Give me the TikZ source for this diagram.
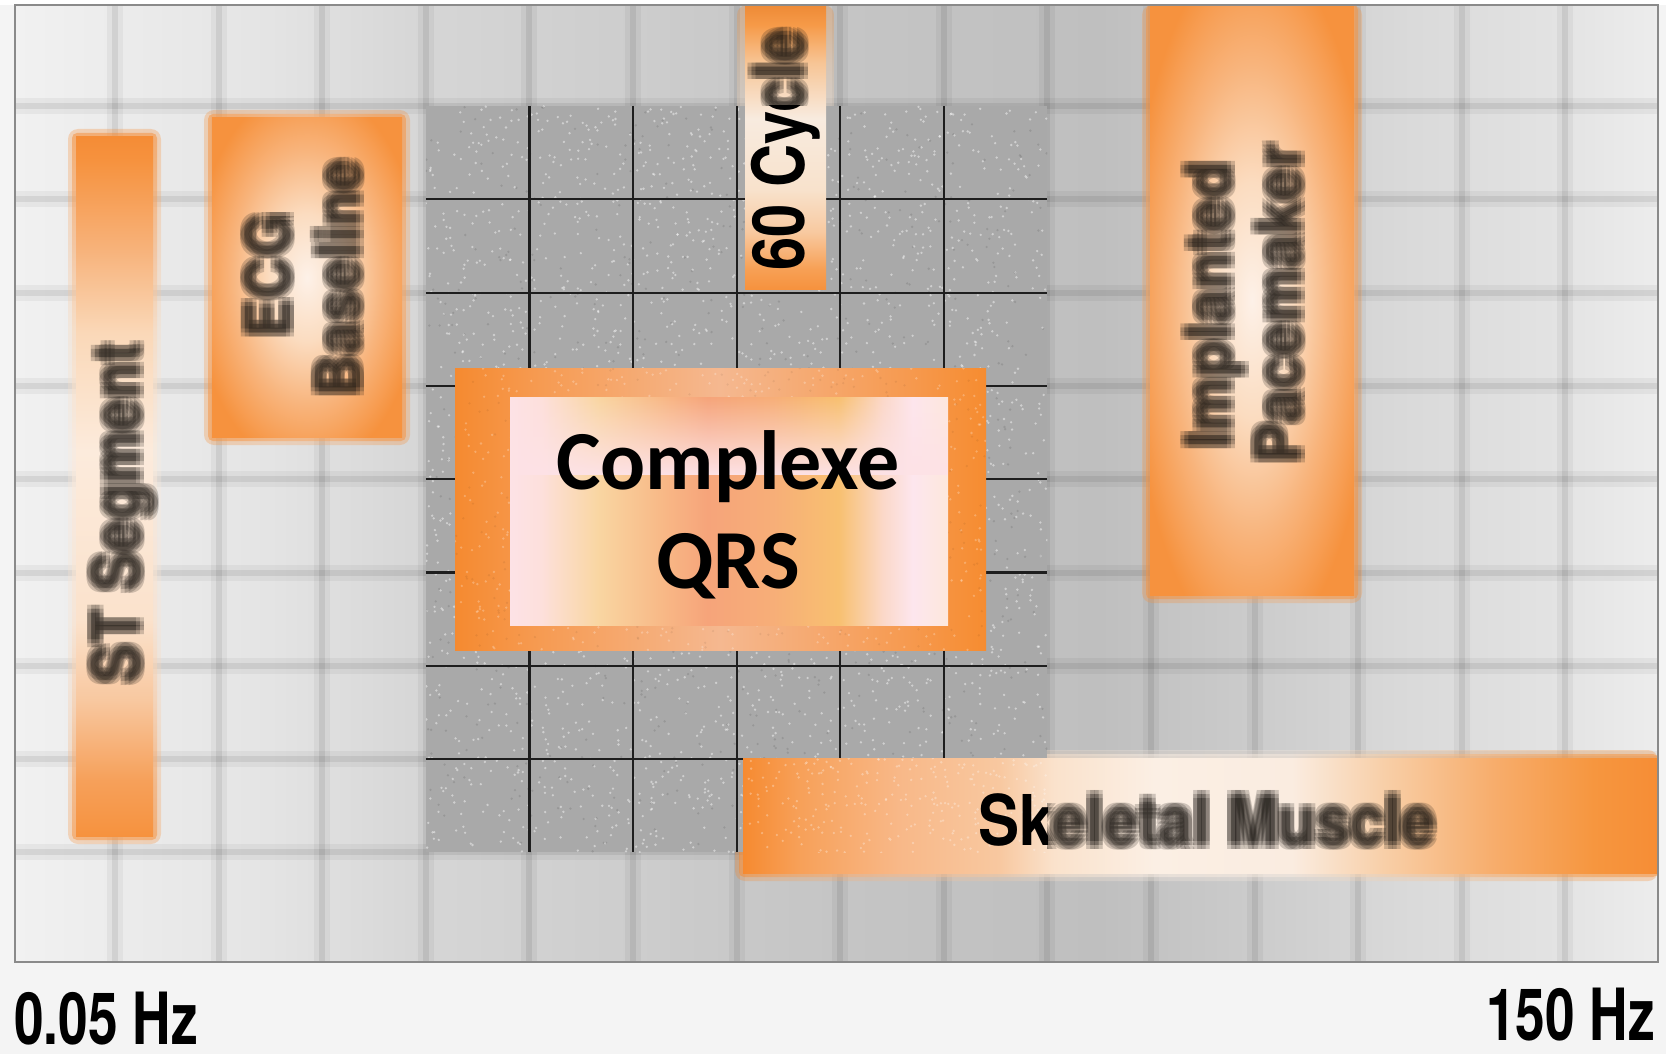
\documentclass[tikz,border=0pt]{standalone}
\usepackage{fontspec}
\usepackage{graphicx}
\usetikzlibrary{fadings}
\newfontfamily\helv{TeX Gyre Heros}
\newfontfamily\calib{Carlito}

\definecolor{pagebg}{HTML}{F4F4F4}
\definecolor{cbA}{HTML}{F1F1F1}
\definecolor{cbB}{HTML}{E4E4E4}
\definecolor{cbC}{HTML}{D6D6D6}
\definecolor{cbD}{HTML}{C6C6C6}
\definecolor{cbE}{HTML}{BFBFBF}
\definecolor{cbF}{HTML}{CBCBCB}
\definecolor{cbG}{HTML}{D9D9D9}
\definecolor{cbH}{HTML}{E3E3E3}
\definecolor{cbI}{HTML}{EDEDED}
\pgfdeclarehorizontalshading{chartbg}{100bp}{color(0bp)=(cbA); color(25bp)=(cbA); color(32.75bp)=(cbB); color(37.35bp)=(cbC); color(48.9bp)=(cbD); color(58bp)=(cbE); color(62.5bp)=(cbF); color(67.1bp)=(cbG); color(72bp)=(cbH); color(75bp)=(cbI); color(100bp)=(cbI)}

\definecolor{stA}{HTML}{F6923E}
\definecolor{stB}{HTML}{F6A05A}
\definecolor{stC}{HTML}{F8C8A0}
\definecolor{stD}{HTML}{FBE2CC}
\definecolor{stE}{HTML}{FCEBDC}
\definecolor{stF}{HTML}{FAD8B8}
\definecolor{stG}{HTML}{F7B27A}
\definecolor{stH}{HTML}{F58C36}
\pgfdeclareverticalshading{stshade}{100bp}{color(0bp)=(stA); color(25bp)=(stA); color(29bp)=(stB); color(34.75bp)=(stC); color(40.5bp)=(stD); color(52.5bp)=(stE); color(61bp)=(stF); color(67bp)=(stG); color(73.35bp)=(stA); color(75bp)=(stH); color(100bp)=(stH)}

\definecolor{cyA}{HTML}{F6923E}
\definecolor{cyB}{HTML}{F7A055}
\definecolor{cyC}{HTML}{F8C9A0}
\definecolor{cyD}{HTML}{F8E2CC}
\definecolor{cyE}{HTML}{F8EBDF}
\definecolor{cyF}{HTML}{F7C494}
\definecolor{cyG}{HTML}{F69A48}
\definecolor{cyH}{HTML}{EE8A36}
\pgfdeclareverticalshading{cyshade}{100bp}{color(0bp)=(cyA); color(25bp)=(cyA); color(28.5bp)=(cyB); color(35bp)=(cyC); color(42.5bp)=(cyD); color(55bp)=(cyE); color(65bp)=(cyF); color(71.5bp)=(cyG); color(75bp)=(cyH); color(100bp)=(cyH)}

\definecolor{skA}{HTML}{F68A30}
\definecolor{skB}{HTML}{F7A058}
\definecolor{skC}{HTML}{F8B888}
\definecolor{skD}{HTML}{F8C8A0}
\definecolor{skE}{HTML}{FAE2CC}
\definecolor{skF}{HTML}{FBEFE4}
\definecolor{skG}{HTML}{FAECE0}
\definecolor{skH}{HTML}{F8CFA8}
\definecolor{skI}{HTML}{F7AD6C}
\definecolor{skJ}{HTML}{F6963F}
\definecolor{skK}{HTML}{F68D35}
\pgfdeclarehorizontalshading{skshade}{100bp}{color(0bp)=(skA); color(25bp)=(skA); color(28bp)=(skB); color(33.5bp)=(skC); color(39bp)=(skD); color(42bp)=(skE); color(47.5bp)=(skF); color(55bp)=(skG); color(60bp)=(skH); color(66bp)=(skI); color(71.5bp)=(skJ); color(75bp)=(skK); color(100bp)=(skK)}

\definecolor{frA}{HTML}{F58A30}
\definecolor{frB}{HTML}{F69A50}
\definecolor{frC}{HTML}{F5B890}
\definecolor{frD}{HTML}{F68C30}
\pgfdeclarehorizontalshading{frshade}{100bp}{color(0bp)=(frA); color(25bp)=(frA); color(32.5bp)=(frB); color(50bp)=(frC); color(67.5bp)=(frB); color(75bp)=(frD); color(100bp)=(frD)}

\definecolor{inA}{HTML}{FDE2E6}
\definecolor{inB}{HTML}{FDE0DC}
\definecolor{inC}{HTML}{F9D6A2}
\definecolor{inD}{HTML}{F8B886}
\definecolor{inE}{HTML}{F6A47A}
\definecolor{inF}{HTML}{F7AE78}
\definecolor{inG}{HTML}{F8C070}
\definecolor{inH}{HTML}{FBD8C8}
\definecolor{inI}{HTML}{FDE6EE}
\definecolor{inJ}{HTML}{FDE8DC}
\pgfdeclarehorizontalshading{inshade}{100bp}{color(0bp)=(inA); color(25bp)=(inA); color(28.5bp)=(inB); color(35bp)=(inC); color(42.5bp)=(inD); color(47.5bp)=(inE); color(55bp)=(inF); color(62.5bp)=(inG); color(67.5bp)=(inH); color(71bp)=(inI); color(75bp)=(inJ); color(100bp)=(inJ)}

\definecolor{glA}{HTML}{FDF1E8}
\definecolor{glB}{HTML}{FBDCC0}
\definecolor{glC}{HTML}{F8B47C}
\definecolor{glD}{HTML}{F6923E}
\pgfdeclareradialshading{boxglow}{\pgfpoint{0bp}{0bp}}{color(0bp)=(glA); color(10bp)=(glB); color(20bp)=(glC); color(30bp)=(glD); color(50bp)=(glD)}

\definecolor{darkcell}{HTML}{A9A9A9}
\definecolor{darkline}{HTML}{1E1E1E}
\definecolor{blurcol}{HTML}{1A1612}
\definecolor{framegray}{HTML}{8A8A8A}

\tikzset{
  softwide/.style={black, opacity=0.045, line width=16pt},
  softthin/.style={black, opacity=0.07, line width=6pt},
  cellline/.style={darkline, line width=2.2pt},
  blurtext/.style={text=blurcol, text opacity=0.2, inner sep=0pt},
  crisptext/.style={text=black, inner sep=0pt},
  glowfar/.style={opacity=0.3, rounded corners=10pt},
  glownear/.style={opacity=0.5, rounded corners=5pt},
}

\newcommand\speckles[6]{%
  \foreach \k in {1,...,#5}{%
    \pgfmathsetmacro\sx{#1+rnd*#3}%
    \pgfmathsetmacro\sy{#2+rnd*#4}%
    \fill[#6] (\sx,\sy) circle[radius=1.3pt];}}

\newcommand\blurtxt[3]{%
  \foreach \bx/\by in {-4/-4,0/-4,4/-4,-4/0,0/0,4/0,-4/4,0/4,4/4}{%
    \node[blurtext,#2] at ([xshift=\bx pt,yshift=\by pt]#1) {#3};}}

\newcommand\stlabel{\helv\bfseries\fontsize{67}{67}\selectfont\scalebox{0.88}[1]{ST Segment}}
\newcommand\ecglabel{\helv\bfseries\fontsize{62}{62}\selectfont\scalebox{0.93}[1]{ECG}}
\newcommand\baselabel{\helv\bfseries\fontsize{62}{62}\selectfont\scalebox{0.93}[1]{Baseline}}
\newcommand\cyclabel{\helv\bfseries\fontsize{72}{72}\selectfont\scalebox{0.83}[1]{60 Cycle}}
\newcommand\impllabel{\helv\bfseries\fontsize{64}{64}\selectfont\scalebox{0.95}[1]{Implanted}}
\newcommand\pacelabel{\helv\bfseries\fontsize{64}{64}\selectfont\scalebox{0.95}[1]{Pacemaker}}
\newcommand\skellabel{\helv\bfseries\fontsize{70}{70}\selectfont\scalebox{0.88}[1]{Skeletal Muscle}}
\newcommand\hzfont{\helv\bfseries\fontsize{72}{72}\selectfont}

\begin{document}
\begin{tikzpicture}[x=1pt,y=-1pt]
\pgfmathsetseed{7}
\useasboundingbox (0,0) rectangle (1666,1054);
\fill[pagebg] (0,0) rectangle (1666,1054);
\fill[white] (0,0) rectangle (1666,5);

% chart background with blurred grid
\shade[shading=chartbg] (15,5) rectangle (1658,962);
\foreach \i in {1,...,15}{
  \pgfmathsetmacro\gx{11.4+103.6*\i}
  \draw[softwide] (\gx,5) -- (\gx,962);
  \draw[softthin] (\gx,5) -- (\gx,962);}
\foreach \j in {1,...,9}{
  \pgfmathsetmacro\gy{12.7+93.3*\j}
  \draw[softwide] (15,\gy) -- (1658,\gy);
  \draw[softthin] (15,\gy) -- (1658,\gy);}

% blurred boxes (outside sharp region)
\shade[shading=stshade, glowfar] (68,129) rectangle (161,844);
\shade[shading=stshade, glownear] (72,133) rectangle (157,840);
\shade[shading=stshade] (76,137) rectangle (153,836);

\shade[shading=boxglow, glowfar] (204,110) rectangle (410,445);
\shade[shading=boxglow, glownear] (208,114) rectangle (406,441);
\shade[shading=boxglow] (212,118) rectangle (402,437);

\shade[shading=boxglow, glowfar] (1142,5) rectangle (1362,603);
\shade[shading=boxglow, glownear] (1146,5) rectangle (1358,599);
\shade[shading=boxglow] (1150,5) rectangle (1354,595);

\shade[shading=cyshade, glowfar] (737,5) rectangle (834,297);
\shade[shading=skshade, glowfar] (735,750) rectangle (1658,881);
\shade[shading=skshade, glownear] (739,754) rectangle (1658,877);

% sharp textured region
\fill[darkcell] (425.8,106) rectangle (1047.4,852.4);
\begin{scope}
  \clip (425.8,106) rectangle (1047.4,852.4);
  \speckles{425.8}{106}{621.6}{746.4}{2600}{white, opacity=0.45}
  \speckles{425.8}{106}{621.6}{746.4}{700}{black, opacity=0.1}
\end{scope}
\foreach \i in {5,...,9}{
  \pgfmathsetmacro\gx{11.4+103.6*\i}
  \draw[cellline] (\gx,106) -- (\gx,852.4);}
\foreach \j in {2,...,8}{
  \pgfmathsetmacro\gy{12.7+93.3*\j}
  \draw[cellline] (425.8,\gy) -- (1047.4,\gy);}

% 60 Cycle box
\shade[shading=cyshade] (745,5) rectangle (826,289);
% Skeletal Muscle band
\shade[shading=skshade] (743,758) rectangle (1658,873);
\begin{scope}
  \clip (743,758) rectangle (1047.4,852.4);
  \speckles{743}{758}{305}{95}{250}{white, opacity=0.3}
\end{scope}

% Complexe QRS frame
\shade[shading=frshade] (455,368) rectangle (986,650);
\begin{scope}
  \clip (455,368) rectangle (986,650);
  \speckles{455}{368}{531}{282}{700}{white, opacity=0.25}
  \speckles{455}{368}{531}{282}{300}{black, opacity=0.06}
\end{scope}
\shade[shading=inshade] (510,397) rectangle (948,625);
\fill[inA, path fading=north] (510,397) rectangle (948,475);

% texts
\node[crisptext, anchor=base, font=\calib\bfseries\fontsize{84}{84}\selectfont] (qrsA) at (728,489) {Complexe};
\node[crisptext, anchor=base, font=\calib\bfseries\fontsize{84}{84}\selectfont] (qrsB) at (728,588) {QRS};

\coordinate (stpos) at (140,513);
\blurtxt{stpos}{name=st, rotate=90, anchor=base}{\stlabel}
\coordinate (ecgpos) at (290,275);
\blurtxt{ecgpos}{name=ecg, rotate=90, anchor=base}{\ecglabel}
\coordinate (basepos) at (360,278);
\blurtxt{basepos}{name=bsl, rotate=90, anchor=base}{\baselabel}
\coordinate (implpos) at (1231,305);
\blurtxt{implpos}{name=impl, rotate=90, anchor=base}{\impllabel}
\coordinate (pacepos) at (1301,304);
\blurtxt{pacepos}{name=pace, rotate=90, anchor=base}{\pacelabel}

\coordinate (cycpos) at (804,271);
\begin{scope}
  \clip (700,0) rectangle (860,106);
  \blurtxt{cycpos}{name=cycblur, rotate=90, anchor=base west}{\cyclabel}
\end{scope}
\begin{scope}
  \clip (700,106) rectangle (860,300);
  \node[crisptext, rotate=90, anchor=base west] (cyc) at (cycpos) {\cyclabel};
\end{scope}

\coordinate (skpos) at (978,845);
\begin{scope}
  \clip (1047.4,700) rectangle (1666,900);
  \blurtxt{skpos}{name=skblur, anchor=base west}{\skellabel}
\end{scope}
\begin{scope}
  \clip (900,700) rectangle (1047.4,852.4);
  \node[crisptext, anchor=base west] (sk) at (skpos) {\skellabel};
\end{scope}

% chart frame
\draw[framegray, line width=1.3pt] (15,5) rectangle (1658,962);

% axis labels
\node[crisptext, anchor=base west, font=\hzfont] (lo) at (14,1044) {\scalebox{0.74}[1]{0.05 Hz}};
\node[crisptext, anchor=base east, font=\hzfont] (hi) at (1655,1040) {\scalebox{0.74}[1]{150 Hz}};
\end{tikzpicture}
\end{document}
